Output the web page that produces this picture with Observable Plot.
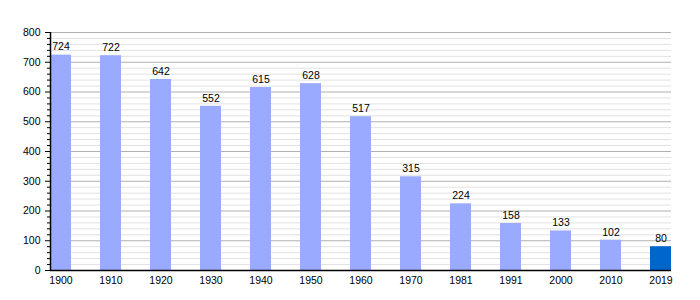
<!DOCTYPE html>
<html>
<head>
<meta charset="utf-8">
<script src="https://cdn.jsdelivr.net/npm/d3@7"></script>
<script src="https://cdn.jsdelivr.net/npm/@observablehq/plot@0.6"></script>
<style>
  body { margin: 0; background: #fff; }
  svg { display: block; }
</style>
</head>
<body>
<div id="chart"></div>
<script>
const years = ["1900","1910","1920","1930","1940","1950","1960","1970","1981","1991","2000","2010","2019"];
const population = [724, 722, 642, 552, 615, 628, 517, 315, 224, 158, 133, 102, 80];
const highlightYear = "2019";
const majorTicks = [0, 100, 200, 300, 400, 500, 600, 700, 800];
const minorTicks = d3.range(0, 801, 20).filter(v => v % 100 !== 0);

const data = years.map((y, i) => ({year: y, value: population[i]}));

const chart = Plot.plot({
  width: 700,
  height: 300,
  marginLeft: 50,
  marginRight: 29,
  marginTop: 32,
  marginBottom: 30,
  style: {fontFamily: "Liberation Sans, Arial, sans-serif", fontSize: "10px", color: "#000", background: "#fff"},
  x: {domain: years, paddingInner: 0.58, paddingOuter: 0, label: null},
  y: {domain: [0, 800], label: null},
  marks: [
    Plot.ruleY(minorTicks, {stroke: "#e2e2e2", strokeWidth: 1}),
    Plot.ruleY(majorTicks, {stroke: "#b0b0b0", strokeWidth: 1}),
    Plot.barY(data, {x: "year", y: "value", fill: d => d.year === highlightYear ? "#0066cc" : "#99aaff"}),
    Plot.text(data, {x: "year", y: "value", text: d => String(d.value), dy: -8, fill: "#000", fontSize: 10.5}),
    Plot.axisY(minorTicks, {tickSize: 3, text: null, label: null, stroke: "#000"}),
    Plot.axisY(majorTicks, {tickSize: 5, tickPadding: 5, label: null, stroke: "#000", fill: "#000", fontSize: 10.5}),
    Plot.axisX({tickSize: 0, tickPadding: 6, label: null, fill: "#000", fontSize: 10.5}),
    Plot.ruleY([0], {stroke: "#000", strokeWidth: 1.5}),
    Plot.ruleX([years[0]], {y1: 0, y2: 800, stroke: "#000", strokeWidth: 1.5, dx: -10.5})
  ]
});
document.getElementById("chart").appendChild(chart);
</script>
</body>
</html>
